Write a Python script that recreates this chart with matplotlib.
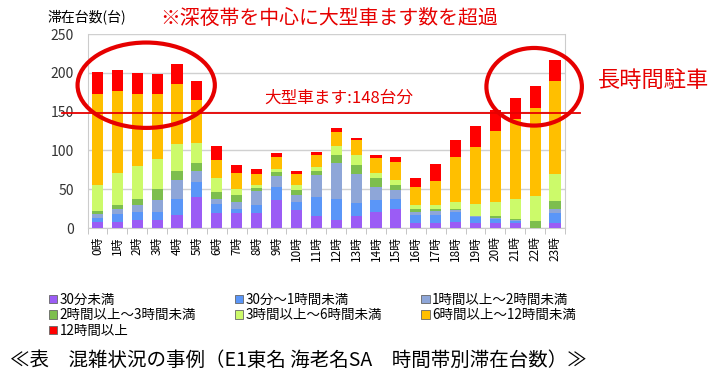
import numpy as np
import matplotlib
matplotlib.use("Agg")
import matplotlib.pyplot as plt
from matplotlib.patches import Ellipse, Patch

plt.rcParams['font.family'] = ['Noto Sans CJK JP', 'DejaVu Sans']

hours = [f"{h}時" for h in range(24)]
categories = ["30分未満", "30分～1時間未満", "1時間以上～2時間未満",
              "2時間以上～3時間未満", "3時間以上～6時間未満", "6時間以上～12時間未満",
              "12時間以上"]
# segment sizes per hour (stacked bottom -> top)
under_30m = [7.5, 8, 10, 10, 17, 40, 19, 19, 19, 36, 23, 15, 10, 15, 20, 25, 6, 7, 8, 6, 7, 6, 0, 7]
m30_to_1h = [5, 10, 11, 11, 20, 19, 12, 5, 10, 17, 11, 25, 27, 17, 16, 13, 11, 10, 12, 8, 4, 3, 0, 12]
h1_to_2h = [5, 7, 8, 15, 25, 15, 6, 10, 19, 14, 9, 28, 47, 38, 17, 11, 4, 5, 3, 1, 2, 1, 0, 6]
h2_to_3h = [5, 4, 9, 14, 11, 10, 10, 8, 3, 5, 6, 5, 10, 11, 11, 6, 4, 3, 2, 1, 2, 1, 9, 10]
h3_to_6h = [33, 42, 42, 39, 35, 25, 18, 8, 5, 4, 6, 6, 12, 13, 7, 7, 5, 5, 9, 15, 19, 27, 32, 34]
h6_to_12h = [117, 106, 93, 84, 77, 56, 23, 21, 14, 15, 15, 15, 18, 19, 19, 23, 23, 31, 57, 74, 91, 102, 114, 120]
over_12h = [28, 27, 27, 26, 26, 24, 18, 10, 6, 6, 4, 4, 5, 3, 4, 6, 11, 21, 23, 27, 27, 28, 28, 28]
series = [under_30m, m30_to_1h, h1_to_2h, h2_to_3h, h3_to_6h, h6_to_12h, over_12h]
colors = ["#9B5CF5", "#5A96F8", "#8EA6D8", "#7DBE4E", "#CCFA6A", "#FFBF00", "#FF0000"]

large_spaces = 148

fig = plt.figure(figsize=(7.22, 3.82), dpi=100)
ax = fig.add_axes([87.5 / 722, 1 - 228 / 382, (565 - 87.5) / 722, (228 - 34) / 382])

x = np.arange(len(hours))
bottom = np.zeros(len(hours))
for vals, c in zip(series, colors):
    ax.bar(x, vals, bottom=bottom, width=0.56, color=c, zorder=3)
    bottom += np.array(vals)

ax.set_xlim(-0.5, 23.5)
ax.set_ylim(0, 250)
ax.set_yticks(range(0, 251, 50))
ax.yaxis.grid(True, color="#D0D0D0", linewidth=1, zorder=0)
ax.tick_params(axis='y', length=0, labelsize=10, pad=10, colors="#333333")
ax.set_xticks(x)
ax.set_xticklabels(hours, rotation=90, fontsize=8.5)
ax.set_xticks(np.arange(-0.5, 24, 1), minor=True)
ax.tick_params(axis='x', which='major', length=0, pad=6)
ax.tick_params(axis='x', which='minor', length=4, color="#BBBBBB")
for s in ['left', 'right', 'bottom']:
    ax.spines[s].set_color("#CCCCCC")
ax.spines['top'].set_visible(False)

# reference line for large-vehicle spaces
ax.plot([-1.8, 24.25], [large_spaces, large_spaces], color="#E60000", lw=1.3, clip_on=False, zorder=4)
ax.text(8.4, large_spaces + 8, f"大型車ます:{large_spaces}台分", color="#E60000", fontsize=12,
        va='bottom', ha='left')

# highlight ellipses
ax.add_patch(Ellipse((2.45, 184), 6.9, 110, fill=False, ec="#E60000", lw=3, clip_on=False, zorder=5))
ax.add_patch(Ellipse((21.95, 182), 4.8, 100, fill=False, ec="#E60000", lw=3, clip_on=False, zorder=5))

fig.text(47 / 722, 1 - 17 / 382, "滞在台数(台)", fontsize=10, va='center', ha='left')
fig.text(160 / 722, 1 - 18 / 382, "※深夜帯を中心に大型車ます数を超過", fontsize=14.3,
         color="#E60000", va='center', ha='left')
fig.text(598 / 722, 1 - 80 / 382, "長時間駐車", fontsize=16, color="#E60000", va='center', ha='left')

handles = [Patch(facecolor=c, edgecolor="#666666", lw=0.6) for c in colors]
order = [0, 3, 6, 1, 4, 2, 5]
fig.legend([handles[i] for i in order], [categories[i] for i in order], ncol=3,
           loc='upper left', bbox_to_anchor=(42 / 722, 1 - 286 / 382), frameon=False,
           fontsize=9.7, handlelength=0.6, handleheight=0.6, handletextpad=0.2,
           labelspacing=0.12, columnspacing=2.9, borderpad=0)

fig.text(10 / 722, 1 - 360 / 382, "≪表　混雑状況の事例（E1東名 海老名SA　時間帯別滞在台数）≫",
         fontsize=14, va='center', ha='left')

fig.savefig("out.png", dpi=100)
